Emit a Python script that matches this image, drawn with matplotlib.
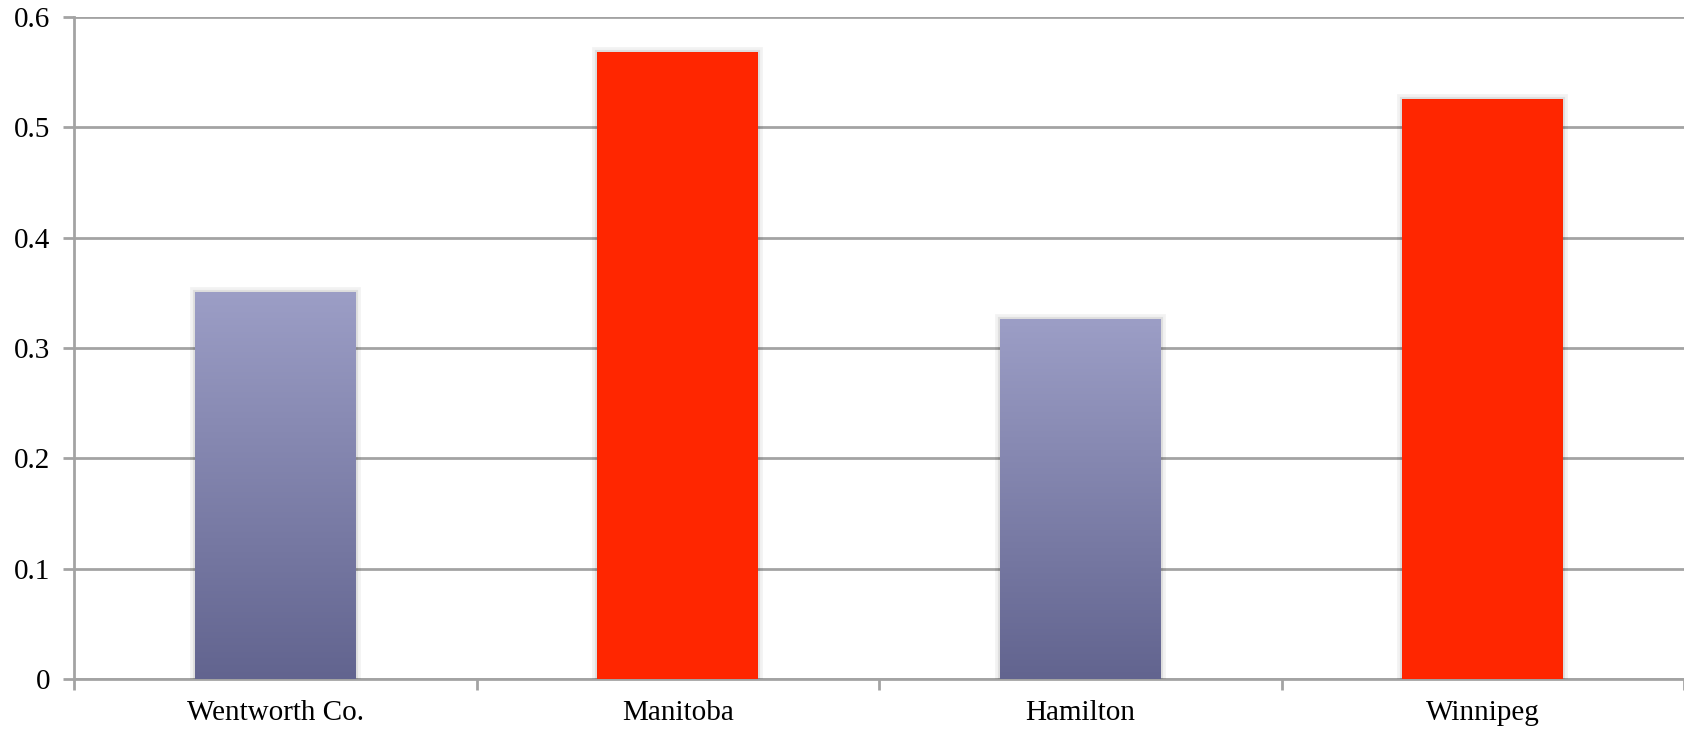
import numpy as np
import matplotlib.pyplot as plt
from matplotlib.colors import LinearSegmentedColormap
import matplotlib.patheffects as pe

# Datos del gráfico
categorias = ['Wentworth Co.', 'Manitoba', 'Hamilton', 'Winnipeg']
valores = [0.351, 0.568, 0.326, 0.526]
tipo = ['azul', 'rojo', 'azul', 'rojo']
yticks = [0, 0.1, 0.2, 0.3, 0.4, 0.5, 0.6]
ytick_labels = ['0', '0.1', '0.2', '0.3', '0.4', '0.5', '0.6']

plt.rcParams['font.family'] = ['Liberation Serif', 'DejaVu Serif']

fig = plt.figure(figsize=(16.84, 7.29), dpi=100)
ax = fig.add_axes([0.044, 0.0686, 0.956, 0.908])

x = np.arange(len(categorias))
ancho = 0.40
gris = '#a3a3a3'

# Degradado azul (de arriba a abajo)
cmap_azul = LinearSegmentedColormap.from_list('azul', ['#62648f', '#9c9ec6'])
grad = np.linspace(0, 1, 256).reshape(-1, 1)

barras = ax.bar(x, valores, width=ancho, color='#ff2600', zorder=3,
                linewidth=0)
for b, t in zip(barras, tipo):
    # sombra suave alrededor de la barra
    b.set_edgecolor('#000000')
    b.set_linewidth(0.01)
    b.set_path_effects([pe.Stroke(linewidth=7, foreground='#000000', alpha=0.05),
                        pe.Stroke(linewidth=3, foreground='#000000', alpha=0.08),
                        pe.Normal()])
    if t == 'azul':
        b.set_facecolor('none')
        x0, y0 = b.get_x(), b.get_y()
        w, h = b.get_width(), b.get_height()
        img = ax.imshow(grad, cmap=cmap_azul, origin='lower', aspect='auto',
                        extent=(x0, x0 + w, y0, y0 + h), zorder=3.5)
        img.set_clip_path(b)

ax.set_xlim(-0.5, len(categorias) - 0.5)
ax.set_ylim(0, 0.6)
ax.set_yticks(yticks)
ax.set_yticklabels(ytick_labels)
ax.set_xticks(x)
ax.set_xticklabels(categorias)
ax.set_xticks(np.arange(len(categorias) + 1) - 0.5, minor=True)

ax.yaxis.grid(True, color=gris, linewidth=2, zorder=0)
ax.set_axisbelow(True)

for s in ['top', 'right']:
    ax.spines[s].set_visible(False)
for s in ['left', 'bottom']:
    ax.spines[s].set_color(gris)
    ax.spines[s].set_linewidth(2)

ax.tick_params(axis='y', length=8, width=2, color=gris, labelsize=21, pad=9)
ax.tick_params(axis='x', which='major', length=0, labelsize=21, pad=15)
ax.tick_params(axis='x', which='minor', length=8, width=2, color=gris)

plt.savefig('out.png', dpi=100)
